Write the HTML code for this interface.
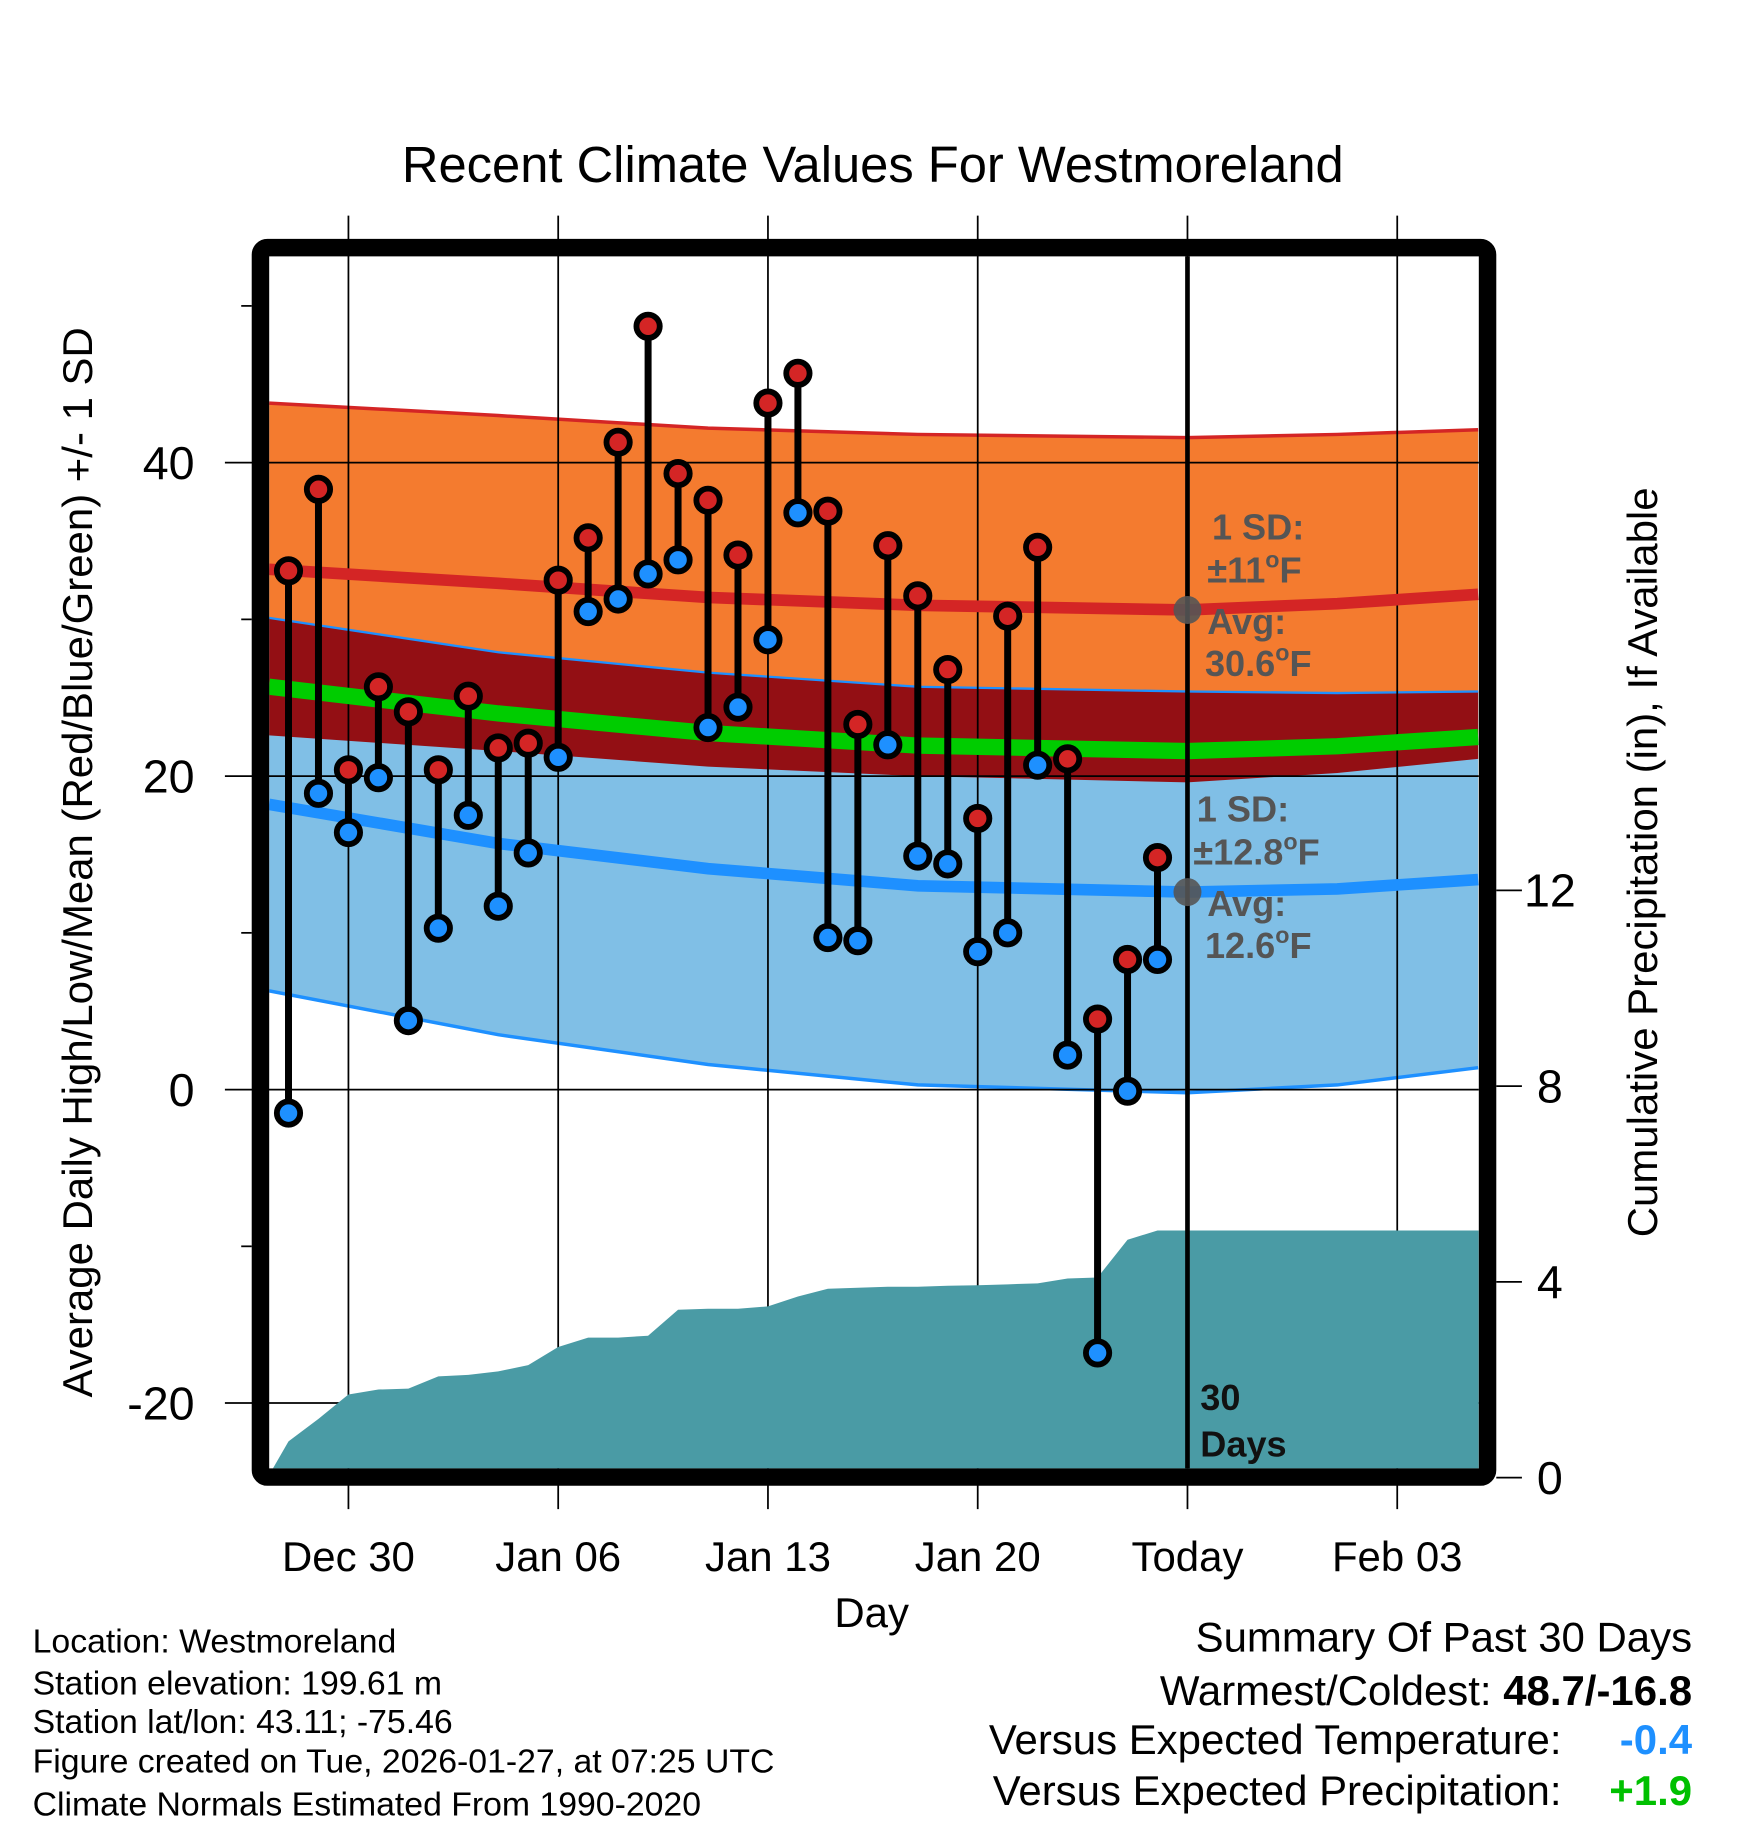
<!DOCTYPE html>
<html><head><meta charset="utf-8"><style>html,body{margin:0;padding:0;background:#fff}svg{display:block}text{font-family:"Liberation Sans",Arial,sans-serif}</style></head>
<body>
<svg id="chart" width="1748" height="1828" viewBox="0 0 1500 1568.65" xmlns="http://www.w3.org/2000/svg">
<defs><clipPath id="plotclip"><rect x="231" y="220" width="1038" height="1040"/></clipPath></defs>
<g id="bands" clip-path="url(#plotclip)"></g>
<g id="grid"></g>
<g id="precip" clip-path="url(#plotclip)"></g>
<g id="lines" clip-path="url(#plotclip)"></g>
<g id="marks"></g>
<g id="annot"></g>
<g font-size="31" font-weight="bold" fill="#555">
<text x="1040" y="463">1 SD:</text>
<text x="1036" y="500">±11<tspan dy="-13" font-size="20">o</tspan><tspan dy="13">F</tspan></text>
<text x="1036" y="544">Avg:</text>
<text x="1034" y="580">30.6<tspan dy="-13" font-size="20">o</tspan><tspan dy="13">F</tspan></text>
<text x="1027" y="705">1 SD:</text>
<text x="1024" y="742">±12.8<tspan dy="-13" font-size="20">o</tspan><tspan dy="13">F</tspan></text>
<text x="1036" y="786">Avg:</text>
<text x="1034" y="822">12.6<tspan dy="-13" font-size="20">o</tspan><tspan dy="13">F</tspan></text>
<text x="1030" y="1210" fill="#111">30</text>
<text x="1030" y="1250" fill="#111">Days</text>
</g>
<rect x="223.5" y="212.5" width="1053" height="1055" rx="6" fill="none" stroke="#000" stroke-width="15"/>
<text x="749" y="156" font-size="43.5" text-anchor="middle">Recent Climate Values For Westmoreland</text>
<text transform="translate(79,740) rotate(-90)" font-size="36" text-anchor="middle">Average Daily High/Low/Mean (Red/Blue/Green) +/- 1 SD</text>
<text transform="translate(1422,740) rotate(-90)" font-size="36" text-anchor="middle">Cumulative Precipitation (in), If Available</text>
<text x="748" y="1396" font-size="36" text-anchor="middle">Day</text>
<g font-size="29">
<text x="28" y="1418">Location: Westmoreland</text>
<text x="28" y="1454">Station elevation: 199.61 m</text>
<text x="28" y="1487">Station lat/lon: 43.11; -75.46</text>
<text x="28" y="1521">Figure created on Tue, 2026-01-27, at 07:25 UTC</text>
<text x="28" y="1558">Climate Normals Estimated From 1990-2020</text>
</g>
<g font-size="36" text-anchor="end">
<text x="1452" y="1417">Summary Of Past 30 Days</text>
<text x="1452" y="1463">Warmest/Coldest: <tspan font-weight="bold">48.7/-16.8</tspan></text>
<text x="1340" y="1505">Versus Expected Temperature:</text>
<text x="1452" y="1505" font-weight="bold" fill="#1e90ff">-0.4</text>
<text x="1340" y="1549">Versus Expected Precipitation:</text>
<text x="1452" y="1549" font-weight="bold" fill="#00c000">+1.9</text>
</g>
<script>
const dayLabels = ["Dec 30","Jan 06","Jan 13","Jan 20","Today","Feb 03"];
const dayTicks = [0,7,14,21,28,35];
const leftTicks = [40,20,0,-20];
const minorTicks = [50,30,10,-10];
const rightTicks = [12,8,4,0];
const obsDays = [-2,-1,0,1,2,3,4,5,6,7,8,9,10,11,12,13,14,15,16,17,18,19,20,21,22,23,24,25,26,27];
const highs = [33.1,38.3,20.4,25.7,24.1,20.4,25.1,21.8,22.1,32.5,35.2,41.3,48.7,39.3,37.6,34.1,43.8,45.7,36.9,23.3,34.7,31.5,26.8,17.3,30.2,34.6,21.1,4.5,8.3,14.8];
const lows = [-1.5,18.9,16.4,19.9,4.4,10.3,17.5,11.7,15.1,21.2,30.5,31.3,32.9,33.8,23.1,24.4,28.7,36.8,9.7,9.5,22.0,14.9,14.4,8.8,10.0,20.7,2.2,-16.8,-0.1,8.3];
const precip = [0.74,1.2,1.7,1.8,1.82,2.07,2.1,2.17,2.3,2.67,2.86,2.86,2.9,3.43,3.45,3.45,3.5,3.7,3.86,3.88,3.9,3.9,3.92,3.93,3.95,3.97,4.07,4.09,4.86,5.05];
const normDays = [-2.65,5,12,19,28,33,37.7];
const normHigh = [33.2,32.3,31.4,30.9,30.6,31.0,31.6];
const highSD = [10.6,10.7,10.8,10.9,11.0,10.8,10.5];
const normLow = [18.2,15.7,14.1,13.0,12.6,12.8,13.4];
const lowSD = [11.9,12.2,12.5,12.7,12.8,12.5,12.0];
const todayDay = 28;

const NS="http://www.w3.org/2000/svg";
const X = d => 299 + d*180/7;
const Y = v => 935 - v*13.45;
const P = p => 1268 - p*42;
function mk(parent,tag,attrs){const e=document.createElementNS(NS,tag);for(const k in attrs)e.setAttribute(k,attrs[k]);document.getElementById(parent).appendChild(e);return e;}
function pts(ds,vs){return ds.map((d,i)=>X(d).toFixed(1)+","+Y(vs[i]).toFixed(1));}

const hiUp=normHigh.map((v,i)=>v+highSD[i]), hiDn=normHigh.map((v,i)=>v-highSD[i]);
const loUp=normLow.map((v,i)=>v+lowSD[i]), loDn=normLow.map((v,i)=>v-lowSD[i]);
const rev=a=>a.slice().reverse();
let e;
e=mk("bands","polygon",{points:pts(normDays,hiUp).concat(rev(pts(normDays,hiDn))).join(" "),fill:"#f47b2f"});

e=mk("bands","polygon",{points:pts(normDays,loUp).concat(rev(pts(normDays,loDn))).join(" "),fill:"#80bfe6"});

const ovTop=loUp.map((v,i)=>Math.min(v,hiUp[i])), ovBot=hiDn.map((v,i)=>Math.max(v,loDn[i]));
e=mk("bands","polygon",{points:pts(normDays,ovTop).concat(rev(pts(normDays,ovBot))).join(" "),fill:"#930f14"});

e=mk("bands","polyline",{points:pts(normDays,hiUp).join(" "),fill:"none",stroke:"#d42525","stroke-width":3});

e=mk("bands","polyline",{points:pts(normDays,loUp).join(" "),fill:"none",stroke:"#1e90ff","stroke-width":2});

e=mk("bands","polyline",{points:pts(normDays,loDn).join(" "),fill:"none",stroke:"#1e90ff","stroke-width":3});


dayTicks.forEach((d,i)=>{
  e=mk("grid","line",{x1:X(d),x2:X(d),y1:185,y2:1295,stroke:"#000","stroke-width":1.5});
  
  e=mk("grid","text",{x:X(d),y:1348,"font-size":36,"text-anchor":"middle"});
  e.textContent=dayLabels[i];
  
});
leftTicks.forEach(v=>{
  e=mk("grid","line",{x1:193,x2:1269,y1:Y(v),y2:Y(v),stroke:"#000","stroke-width":1.5});
  
  e=mk("grid","text",{x:167,y:Y(v)+14,"font-size":40,"text-anchor":"end"});
  e.textContent=v;
  
});
minorTicks.forEach(v=>{
  e=mk("grid","line",{x1:207,x2:216,y1:Y(v),y2:Y(v),stroke:"#000","stroke-width":1.5});
  
});
rightTicks.forEach(p=>{
  e=mk("grid","line",{x1:1284,x2:1306,y1:P(p),y2:P(p),stroke:"#000","stroke-width":1.5});
  
  e=mk("grid","text",{x:1330,y:P(p)+14,"font-size":40,"text-anchor":"middle"});
  e.textContent=p;
  
});

{
  let s=[X(-2.65)+","+P(0)+"",X(-2.65)+","+P(0.05)];
  obsDays.forEach((d,i)=>s.push(X(d)+","+P(precip[i])));
  s.push("1269,"+P(precip[precip.length-1]));s.push("1269,"+P(0));
  e=mk("precip","polygon",{points:s.join(" "),fill:"#4a9ba5"});
  
}
e=mk("lines","polyline",{points:pts(normDays,normHigh).join(" "),fill:"none",stroke:"#d42525","stroke-width":10});

e=mk("lines","polyline",{points:pts(normDays,normLow).join(" "),fill:"none",stroke:"#1e90ff","stroke-width":10});

const normMean=normHigh.map((v,i)=>(v+normLow[i])/2);
e=mk("lines","polyline",{points:pts(normDays,normMean).join(" "),fill:"none",stroke:"#00cc00","stroke-width":14});


e=mk("lines","line",{x1:X(todayDay),x2:X(todayDay),y1:220,y2:1260,stroke:"#000","stroke-width":4});


obsDays.forEach((d,i)=>{
  e=mk("marks","line",{x1:X(d),x2:X(d),y1:Y(highs[i]),y2:Y(lows[i]),stroke:"#000","stroke-width":6});
  
});
obsDays.forEach((d,i)=>{
  e=mk("marks","circle",{cx:X(d),cy:Y(highs[i]),r:10,fill:"#d42525",stroke:"#000","stroke-width":5});
  
  e=mk("marks","circle",{cx:X(d),cy:Y(lows[i]),r:10,fill:"#1e90ff",stroke:"#000","stroke-width":5});
  
});

const tx=X(todayDay);
e=mk("annot","circle",{cx:tx,cy:Y(normHigh[4]),r:12,fill:"#555","fill-opacity":0.9});

e=mk("annot","circle",{cx:tx,cy:Y(normLow[4]),r:12,fill:"#555","fill-opacity":0.9});

</script>
</svg>
</body></html>
